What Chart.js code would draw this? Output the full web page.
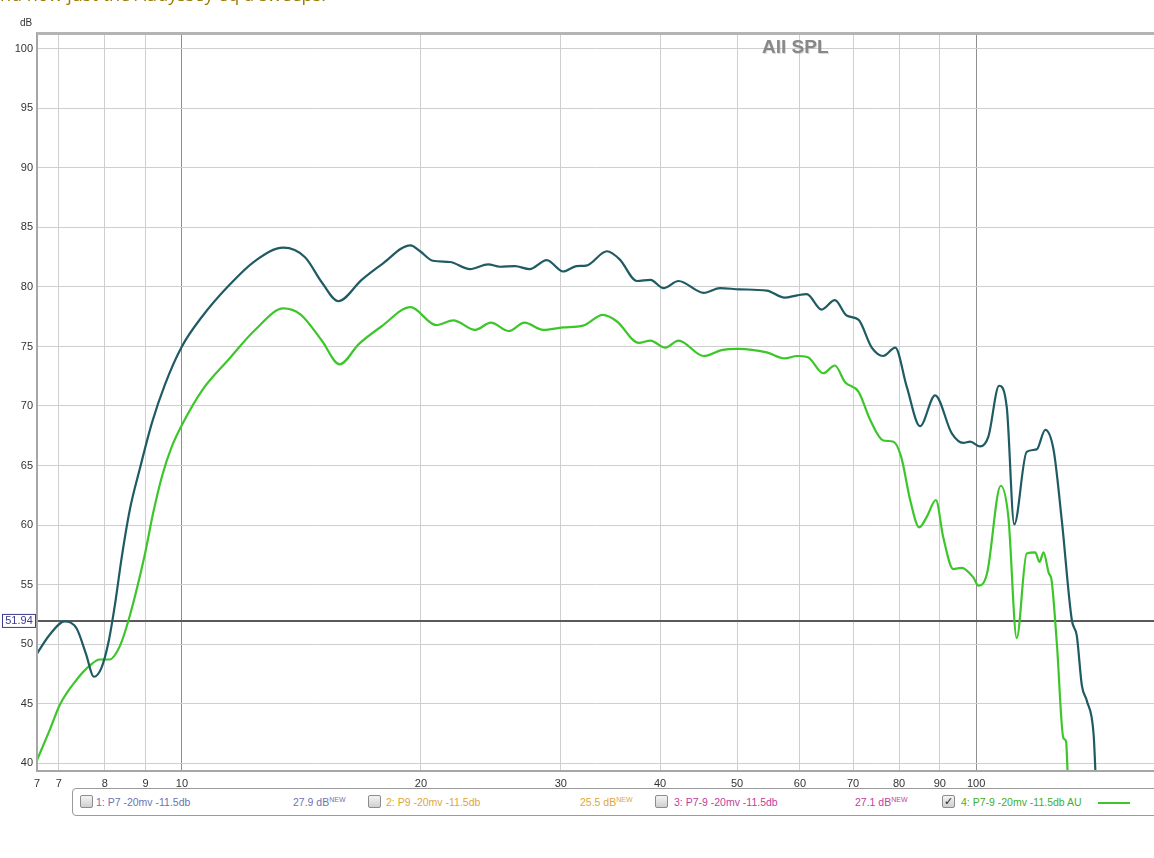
<!DOCTYPE html>
<html>
<head>
<meta charset="utf-8">
<script src="https://cdn.jsdelivr.net/npm/chart.js@4/dist/chart.umd.min.js"></script>
<style>
  html, body { margin: 0; padding: 0; background: #fff; overflow: hidden; }
  #wrap { position: absolute; left: 0; top: 0; width: 1154px; height: 858px; }
  #topnote { position: absolute; left: -10px; top: -18px; font: 18px/24px "Open Sans", "DejaVu Sans", sans-serif; color: #9a7b0a; white-space: nowrap; }
  #legend { position: absolute; left: 72px; top: 788px; width: 1100px; height: 26px; border: 1px solid #9a9a9a; border-radius: 4px; background: #fff; font: 10.5px "Liberation Sans", Arial, sans-serif; }
  .cb { position: absolute; top: 6px; width: 11px; height: 11px; border: 1px solid #8c8c8c; border-radius: 2px; background: linear-gradient(#f4f4f4, #cfcfcf); font: bold 11px "DejaVu Sans", sans-serif; line-height: 11px; text-align: center; color: #222; }
  .lt { position: absolute; top: 7px; white-space: nowrap; }
  .lt sup { font-size: 7px; vertical-align: 4px; }
  .swatch { position: absolute; top: 13px; width: 32px; height: 2px; background: #3cc62a; }
</style>
</head>
<body>
<div id="wrap">
  <canvas id="c" width="1154" height="858"></canvas>
  <div id="topnote">and now just the Audyssey eq'd sweeps.</div>
  <div id="legend">
    <div class="cb" style="left:7px"></div>
    <div class="lt" style="left:23px;color:#6f72b4">1: P7 -20mv -11.5db</div>
    <div class="lt" style="left:220px;color:#6f72b4">27.9 dB<sup>NEW</sup></div>
    <div class="cb" style="left:295px"></div>
    <div class="lt" style="left:313px;color:#e0a63a">2: P9 -20mv -11.5db</div>
    <div class="lt" style="left:507px;color:#e0a63a">25.5 dB<sup>NEW</sup></div>
    <div class="cb" style="left:582px"></div>
    <div class="lt" style="left:601px;color:#c2409e">3: P7-9 -20mv -11.5db</div>
    <div class="lt" style="left:782px;color:#c2409e">27.1 dB<sup>NEW</sup></div>
    <div class="cb" style="left:869px">✓</div>
    <div class="lt" style="left:888px;color:#3fae2c">4: P7-9 -20mv -11.5db AU</div>
    <div class="swatch" style="left:1025px"></div>
  </div>
</div>
<script>
// ---- data ----
const xTickValues = [6.57, 7, 8, 9, 10, 20, 30, 40, 50, 60, 70, 80, 90, 100];
const xTickLabels = ["7", "7", "8", "9", "10", "20", "30", "40", "50", "60", "70", "80", "90", "100"];
const yTickValues = [40, 45, 50, 55, 60, 65, 70, 75, 80, 85, 90, 95, 100];
const markerLevel = 51.94;

const darkFreq = [6.57, 6.82, 7.12, 7.37, 7.57, 7.75, 7.92, 8.08, 8.24, 8.4, 8.6, 8.85, 9.17, 9.52, 10, 10.6, 11.45, 12.37, 13.42, 14.29, 15.0, 15.74, 16.84, 17.85, 19.4, 19.95, 20.7, 21.75, 23.05, 24.3, 25.15, 26.27, 27.4, 28.8, 30.2, 31.4, 32.3, 34.3, 35.6, 37.4, 38.9, 40.4, 42.2, 45.4, 47.6, 50.4, 54.5, 57.4, 59.5, 61.2, 63.9, 66.4, 68.7, 71.1, 73.9, 76.4, 79.1, 81.8, 85.0, 88.8, 93.2, 96.4, 98.3, 101.2, 103.6, 106.9, 109.3, 111.7, 115.8, 119.2, 122.2, 125.2, 128.2, 132.0, 133.9, 135.9, 137.9, 140.6, 141.5];
const darkDb = [49.2, 50.8, 51.9, 51.3, 49.2, 47.25, 48.0, 50.1, 53.4, 57.3, 61.3, 64.7, 68.6, 71.8, 75.0, 77.5, 80.1, 82.2, 83.3, 82.5, 80.4, 78.8, 80.6, 81.9, 83.5, 83.0, 82.2, 82.1, 81.5, 81.9, 81.7, 81.75, 81.5, 82.26, 81.3, 81.75, 81.8, 83.0, 82.3, 80.5, 80.6, 79.9, 80.5, 79.5, 79.9, 79.8, 79.7, 79.1, 79.3, 79.4, 78.1, 78.9, 77.6, 77.25, 74.9, 74.2, 74.9, 71.6, 68.3, 70.9, 67.7, 66.9, 67.0, 66.6, 67.4, 71.7, 69.9, 60.05, 66.15, 66.35, 68.0, 66.3, 60.4, 52.0, 50.7, 46.5, 45.2, 42.4, 38.5];

const greenFreq = [6.57, 6.82, 7.02, 7.37, 7.66, 7.88, 8.11, 8.35, 8.6, 8.98, 9.2, 9.45, 9.7, 10, 10.6, 11.45, 12.37, 13.42, 14.1, 15.0, 15.8, 16.7, 17.85, 19.4, 20.9, 21.97, 23.4, 24.5, 25.8, 27.0, 28.5, 30.2, 32.0, 33.9, 35.3, 37.6, 38.9, 40.6, 42.2, 45.4, 47.8, 50.2, 54.5, 57.4, 59.5, 61.4, 64.2, 66.4, 68.4, 71.1, 73.6, 76.4, 78.7, 80.5, 82.6, 84.8, 86.7, 89.0, 90.9, 93.6, 95.9, 99.2, 100.7, 103.2, 107.4, 109.8, 112.5, 115.8, 118.7, 120.2, 121.6, 123.4, 124.5, 126.4, 128.8, 129.8, 130.5];
const greenDb = [40.25, 42.8, 44.9, 47.0, 48.2, 48.7, 48.7, 49.8, 52.4, 57.5, 61.0, 64.2, 66.5, 68.4, 71.3, 73.9, 76.4, 78.2, 77.7, 75.5, 73.5, 75.2, 76.7, 78.3, 76.8, 77.2, 76.4, 77.0, 76.3, 77.0, 76.4, 76.6, 76.75, 77.65, 77.1, 75.3, 75.5, 74.9, 75.5, 74.2, 74.7, 74.8, 74.5, 74.0, 74.2, 74.1, 72.75, 73.4, 72.0, 71.2, 68.8, 67.1, 67.0, 65.7, 62.1, 59.8, 60.7, 62.1, 59.0, 56.3, 56.4, 55.6, 54.9, 55.9, 63.3, 60.7, 50.5, 57.6, 57.7, 56.9, 57.7, 56.0, 55.3, 50.0, 42.1, 41.85, 38.5];

const toPoints = (xs, ys) => xs.map((x, i) => ({ x: x, y: ys[i] }));

const decor = {
  id: 'decor',
  beforeDatasetsDraw(chart) {
    const { ctx, chartArea: a, scales } = chart;
    const yy = scales.y.getPixelForValue(markerLevel);
    ctx.save();
    ctx.strokeStyle = '#5a5a5a';
    ctx.lineWidth = 2;
    ctx.beginPath(); ctx.moveTo(a.left, yy); ctx.lineTo(a.right, yy); ctx.stroke();
    ctx.restore();
  },
  afterDraw(chart) {
    const { ctx, chartArea: a, scales } = chart;
    ctx.save();
    ctx.strokeStyle = '#a6a6a6';
    ctx.lineWidth = 2;
    ctx.strokeRect(a.left, a.top, a.right - a.left + 2, a.bottom - a.top);
    ctx.fillStyle = '#b4b4b4';
    ctx.fillRect(a.left, a.top - 1, a.right - a.left, 3);
    const yy = scales.y.getPixelForValue(markerLevel);
    ctx.fillStyle = '#fff';
    ctx.fillRect(2, yy - 7, 34, 14);
    ctx.strokeStyle = '#3b3b8f';
    ctx.lineWidth = 1;
    ctx.strokeRect(2.5, yy - 6.5, 33, 13);
    ctx.fillStyle = '#3b3b8f';
    ctx.font = '11px "Liberation Sans", Arial, sans-serif';
    ctx.textAlign = 'center';
    ctx.textBaseline = 'middle';
    ctx.fillText(markerLevel.toFixed(2), 19, yy + 0.5);
    ctx.fillStyle = '#333';
    ctx.font = '10px "Liberation Sans", Arial, sans-serif';
    ctx.fillText('dB', 26, 23);
    ctx.font = 'bold 19px "Liberation Sans", Arial, sans-serif';
    ctx.textAlign = 'left';
    ctx.textBaseline = 'alphabetic';
    ctx.fillStyle = 'rgba(150,150,150,0.35)';
    ctx.fillText('All SPL', 763, 54);
    ctx.fillStyle = '#888888';
    ctx.fillText('All SPL', 762, 53);
    ctx.restore();
  }
};

new Chart(document.getElementById('c'), {
  type: 'line',
  data: {
    datasets: [
      { label: 'P7-9 -20mv -11.5db', data: toPoints(darkFreq, darkDb), borderColor: '#1f5b62', borderWidth: 2.2, pointRadius: 0, cubicInterpolationMode: 'monotone', fill: false },
      { label: '4: P7-9 -20mv -11.5db AU', data: toPoints(greenFreq, greenDb), borderColor: '#3cc62a', borderWidth: 2.2, pointRadius: 0, cubicInterpolationMode: 'monotone', fill: false }
    ]
  },
  options: {
    responsive: false,
    animation: false,
    devicePixelRatio: 1,
    layout: { padding: { top: 33, right: 0, left: 0, bottom: 0 } },
    plugins: { legend: { display: false }, tooltip: { enabled: false }, title: { display: false } },
    scales: {
      x: {
        type: 'logarithmic',
        min: 6.57,
        max: 167.5,
        afterFit(s) { s.height = 87; },
        afterBuildTicks(s) { s.ticks = xTickValues.map(v => ({ value: v })); },
        ticks: {
          autoSkip: false, maxRotation: 0, minRotation: 0, padding: 6,
          color: '#333', font: { family: '"Liberation Sans", Arial, sans-serif', size: 11 },
          callback: (v, i) => xTickLabels[i]
        },
        grid: {
          drawTicks: false,
          color: c => (c.tick && (c.tick.value === 10 || c.tick.value === 100)) ? '#8e8e8e' : '#cfcfcf',
          lineWidth: 1
        },
        border: { display: false }
      },
      y: {
        min: 39.33,
        max: 101.34,
        afterFit(s) { s.width = 37; },
        afterBuildTicks(s) { s.ticks = yTickValues.map(v => ({ value: v })); },
        ticks: {
          padding: 4, color: '#333', font: { family: '"Liberation Sans", Arial, sans-serif', size: 11 },
          callback: v => String(v)
        },
        grid: { drawTicks: false, color: '#cfcfcf', lineWidth: 1 },
        border: { display: false }
      }
    }
  },
  plugins: [decor]
});
</script>
</body>
</html>
